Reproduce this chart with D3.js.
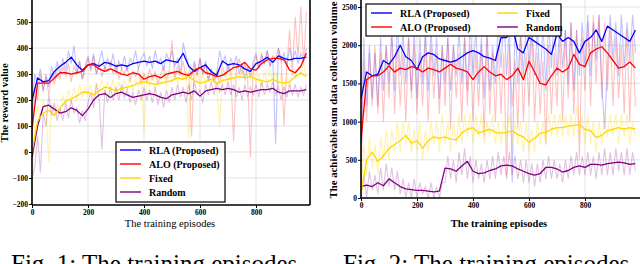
<!DOCTYPE html>
<html>
<head>
<meta charset="utf-8">
<script src="https://cdn.jsdelivr.net/npm/d3@7"></script>
<style>
  body { margin: 0; background: #fff; }
  svg { display: block; }
</style>
</head>
<body>
<svg id="chart" width="640" height="264" font-family="Liberation Serif, serif"></svg>
<script>
// ---- data ----
const seriesNames = ['RLA (Proposed)', 'ALO (Proposed)', 'Fixed', 'Random'];
const seriesColors = ['#0000ff', '#ff0000', '#ffd700', '#800080'];
const rawStep = 10;     // episodes between raw samples
const smoothStep = 20;  // episodes between smoothed samples
const FONT = 'Liberation Serif, serif';

// Fig. 1: reward value
const rewardSmoothRLA = [200,285,270,275,310,330,345,365,335,315,335,340,330,345,340,330,335,330,340,345,350,345,350,340,355,350,345,380,330,310,325,335,310,295,350,335,340,335,320,310,340,350,365,345,370,360,355,360,360,365];
const rewardSmoothALO = [90,265,265,265,285,305,305,300,305,310,335,335,320,310,320,310,300,295,305,300,280,290,295,285,300,305,310,300,295,315,325,305,300,290,295,310,325,330,345,320,315,340,355,360,360,355,315,305,330,380];
const rewardSmoothFixed = [0,120,150,160,140,170,195,205,215,230,230,220,235,250,245,235,245,250,255,265,270,265,260,265,270,275,285,280,290,275,265,270,280,265,275,280,285,290,285,290,280,275,270,280,270,265,270,290,305,290];
const rewardSmoothRandom = [-20,100,175,180,165,150,155,170,160,140,165,200,220,225,210,225,230,220,210,215,220,225,220,210,205,220,225,230,225,235,215,235,240,245,240,245,240,230,235,230,235,240,240,245,230,225,235,235,235,240];

const rewardRawRLA = [150,300,260,320,230,300,250,330,280,350, 300,360,310,390,340,410,300,350,280,330, 370,320,380,300,350,390,310,360,330,380, 300,350,320,370,310,360,340,390,320,360, 380,330,370,320,390,340,360,310,380,350, 390,330,360,300,420,370,330,290,350,300, 360,300,350,280,320,270,300,390,340,370, 310,360,330,370,300,340,280,330,290,350, 380,320,370,340,390,330,360,30,400,350, 380,330,400,350,390,340,380,350,400];
const rewardRawALO = [40,250,200,300,240,290,220,300,260,310, 280,330,290,340,270,330,300,350,280,320, 360,310,370,300,340,290,330,310,350,300, 340,280,320,300,330,270,310,290,320,260, 300,270,320,280,310,260,300,330,280,310, 430,280,330,300,350,280,310,60,340,290, 360,300,340,270,320,280,310,260,330,290, 340,300,40,320,360,300,340,290,-20,330, 370,320,380,340,390,330,370,360,400,350, 100,330,470,300,520,360,560,340,540];
const rewardRawFixed = [-150,100,180,130,200,160,-40,190,140,180, 160,220,180,240,190,250,200,260,210,250, 220,260,200,270,230,280,220,270,240,280, 230,270,220,280,240,290,230,280,250,300, 80,290,250,300,240,290,260,310,250,300, 270,310,260,320,280,330,50,320,270,310, 250,300,260,310,270,300,240,100,280,310, 260,320,270,310,280,330,270,320,280,310, 260,300,250,310,260,320,270,310,250,300, 240,290,250,310,280,330,300,340,290];
const rewardRawRandom = [-100,-60,60,-80,150,100,220,140,190,120, 170,120,190,130,200,150,170,110,160,120, 190,230,170,260,200,10,240,190,250,200, 250,200,260,210,240,190,230,180,240,200, 250,200,240,190,250,180,230,170,240,190, 250,200,260,210,250,190,260,200,270,220, 240,190,260,220,270,220,270,230,260,220, 270,220,260,210,250,200,260,210,250,220, 260,210,270,220,260,230,270,220,250,200, 250,210,260,220,260,210,250,220,260];

// Fig. 2: achievable sum data collection volume
const volumeSmoothRLA = [1300,1650,1600,1620,1800,1750,1850,2000,1850,1800,1680,1850,1900,1880,1820,1800,1780,1800,1850,1900,1930,1900,1850,1830,1800,2100,2100,2250,1950,1900,2100,2050,2000,1950,1880,2150,2050,2100,2050,1900,2050,2100,2200,2050,2250,2200,2150,2100,2050,2200];
const volumeSmoothALO = [750,1550,1600,1600,1650,1730,1650,1700,1680,1720,1700,1650,1700,1680,1650,1700,1750,1700,1680,1650,1550,1650,1720,1650,1600,1620,1550,1600,1700,1550,1790,1650,1500,1480,1600,1700,1650,1700,1880,1750,1720,1900,1950,1980,1900,1800,1700,1720,1780,1700];
const volumeSmoothFixed = [50,500,600,480,550,650,700,750,820,720,750,650,750,800,780,800,770,760,850,900,920,850,880,900,860,850,860,880,830,800,730,780,850,860,900,920,920,940,950,960,900,880,790,820,880,900,920,900,920,900];
const volumeSmoothRandom = [150,170,150,200,160,250,200,150,120,110,100,100,90,80,90,390,380,350,420,480,350,320,330,360,380,420,430,420,380,350,320,300,320,400,400,380,340,360,400,420,400,440,440,430,450,460,470,460,440,450];

const volumeRawRLA = [400,2100,1200,2000,1300,1900,1200,2100,1400,2000, 1500,2200,1400,2300,1600,2200,1500,2100,1400,2200, 1300,2100,1500,2200,1400,2200,1600,2100,1300,2000, 1500,2100,1400,2000,1600,2200,1500,2100,1400,2300, 1600,2200,1500,2100,1300,2200,1400,2000,1500,2300, 1700,2400,1600,2300,200,2400,1500,2200,1600,2300, 1700,2300,1600,2200,1500,2300,1400,2300,1700,2400, 1600,2300,1700,2200,1500,2300,1400,2200,1600,2300, 1700,2400,1600,2300,1800,2400,1500,900,1700,2400, 1800,2300,1600,2400,1700,2300,1800,2400,1900];
const volumeRawALO = [200,1800,1000,1900,1200,2000,1100,1900,1000,2000, 1300,2100,1100,2000,1200,1900,1000,2100,1300,2000, 1100,1900,1200,2100,1000,2000,1300,1900,1100,2000, 1200,2100,900,2000,1300,1900,1000,2100,1200,2000, 1000,1900,1200,2000,800,2100,1100,1900,1000,2000, 1100,1900,300,2000,1200,1800,900,2100,1000,1900, 1200,2200,1000,1900,1100,1800,700,2000,1100,1900, 1200,2100,1000,2200,1300,2300,1100,2200,500,2100, 1400,2300,1200,2400,1500,2400,1300,2300,1400,2200, 1200,2100,1300,2000,1100,2200,1000,2100,1200];
const volumeRawFixed = [0,700,300,800,400,700,300,800,500,900, 500,900,600,1000,600,1000,700,1000,600,900, 600,1000,500,900,600,1000,700,1000,600,1100, 700,1000,600,1000,700,1100,700,1100,800,1100, 700,1100,800,1100,700,1000,800,1100,700,1000, 700,1000,800,1100,700,1000,700,1000,600,1000, 600,900,600,1000,700,1000,700,1100,800,1100, 800,1100,800,1100,800,1100,800,1200,800,1100, 700,1100,700,1000,600,1000,700,1100,800,1100, 800,1100,700,1100,800,1100,700,1000,800];
const volumeRawRandom = [50,300,0,350,100,300,50,400,100,450, 150,400,100,350,50,250,0,200,0,250, 0,200,50,150,0,200,0,150,0,200, 200,550,250,500,200,600,300,650,250,550, 200,500,250,450,200,500,250,550,250,600, 300,550,250,600,300,550,250,500,200,500, 200,450,150,450,200,500,250,550,250,500, 250,450,200,500,250,550,300,600,300,550, 300,600,300,550,250,600,300,650,300,600, 300,650,350,600,300,650,300,600,350];

const xTicks = [0, 200, 400, 600, 800];
const rewardTicks = [-200, -100, 0, 100, 200, 300, 400, 500];
const volumeTicks = [0, 500, 1000, 1500, 2000, 2500];

const panels = [
  {
    left: 32, right: 310, top: -2, bottom: 205, yDomain: [-204, 585],
    yTicks: rewardTicks, yLabel: 'The reward value', yLabelX: 8, yLabelY: 103, yLabelSize: 10.5,
    raw: [rewardRawRLA, rewardRawALO, rewardRawFixed, rewardRawRandom],
    smooth: [rewardSmoothRLA, rewardSmoothALO, rewardSmoothFixed, rewardSmoothRandom],
    legend: { x: 116, y: 142, w: 109, h: 60, cols: 1 },
    caption: 'Fig. 1: The training episodes', captionX: 11
  },
  {
    left: 361, right: 642, top: -2, bottom: 198, yDomain: [0, 2592],
    yTicks: volumeTicks, yLabel: 'The achievable sum data collection volume', yLabelX: 337, yLabelY: 100, yLabelSize: 10.8,
    raw: [volumeRawRLA, volumeRawALO, volumeRawFixed, volumeRawRandom],
    smooth: [volumeSmoothRLA, volumeSmoothALO, volumeSmoothFixed, volumeSmoothRandom],
    legend: { x: 366, y: 4, w: 195, h: 32, cols: 2 },
    caption: 'Fig. 2: The training episodes', captionX: 343
  }
];

const svg = d3.select('#chart');

panels.forEach((p, pi) => {
  const x = d3.scaleLinear().domain([0, 1000]).range([p.left, p.left + 280]);
  const y = d3.scaleLinear().domain(p.yDomain).range([p.bottom, 0]);
  const g = svg.append('g');

  const clipId = `clip${pi}`;
  svg.append('clipPath').attr('id', clipId)
    .append('rect')
    .attr('x', p.left).attr('y', p.top)
    .attr('width', p.right - p.left).attr('height', p.bottom - p.top);

  // grid
  g.selectAll('.vgrid').data(xTicks.filter(d => d > 0)).join('line')
    .attr('x1', d => x(d)).attr('x2', d => x(d))
    .attr('y1', p.top).attr('y2', p.bottom)
    .attr('stroke', '#dcdcdc').attr('stroke-width', 0.8);
  g.selectAll('.hgrid').data(p.yTicks.filter(d => d !== p.yTicks[0] || pi === 1)).join('line')
    .attr('x1', p.left).attr('x2', p.right)
    .attr('y1', d => y(d)).attr('y2', d => y(d))
    .attr('stroke', '#dcdcdc').attr('stroke-width', 0.8);

  const plot = g.append('g').attr('clip-path', `url(#${clipId})`);

  // faint raw curves
  p.raw.forEach((vals, i) => {
    const line = d3.line().x((d, j) => x(j * rawStep)).y(d => y(d));
    plot.append('path')
      .attr('d', line(vals))
      .attr('fill', 'none')
      .attr('stroke', seriesColors[i])
      .attr('stroke-opacity', i === 2 ? 0.32 : 0.24)
      .attr('stroke-width', 1.1);
  });

  // smoothed curves
  [3, 2, 0, 1].forEach(i => {
    const line = d3.line().x((d, j) => x(j * smoothStep)).y(d => y(d));
    plot.append('path')
      .attr('d', line(p.smooth[i]))
      .attr('fill', 'none')
      .attr('stroke', seriesColors[i])
      .attr('stroke-width', 1.3)
      .attr('stroke-linejoin', 'round');
  });

  // frame
  g.append('line').attr('x1', p.left).attr('x2', p.left).attr('y1', p.top).attr('y2', p.bottom)
    .attr('stroke', '#000').attr('stroke-width', 1.6);
  g.append('line').attr('x1', p.left).attr('x2', p.right).attr('y1', p.bottom).attr('y2', p.bottom)
    .attr('stroke', '#000').attr('stroke-width', 1.6);
  g.append('line').attr('x1', p.right).attr('x2', p.right).attr('y1', p.top).attr('y2', p.bottom)
    .attr('stroke', '#000').attr('stroke-width', 1.6);

  // axes
  const xAxis = d3.axisBottom(x).tickValues(xTicks).tickSize(3).tickPadding(2).tickFormat(d3.format('d'));
  const yAxis = d3.axisLeft(y).tickValues(p.yTicks).tickSize(3).tickPadding(1).tickFormat(d3.format('d'));
  const gx = g.append('g').attr('transform', `translate(0,${p.bottom})`).call(xAxis);
  const gy = g.append('g').attr('transform', `translate(${p.left},0)`).call(yAxis);
  [gx, gy].forEach(a => {
    a.attr('font-family', FONT);
    a.select('.domain').remove();
    a.selectAll('text').attr('font-size', 7.5).attr('font-weight', 'bold')
      .style('font-family', FONT).attr('fill', '#000');
    a.selectAll('line').attr('stroke', '#000');
  });

  // axis labels
  g.append('text')
    .attr('x', p.left + 138).attr('y', 227)
    .attr('text-anchor', 'middle')
    .style('font-family', FONT)
    .attr('font-size', 10.5).attr('font-weight', pi === 1 ? 'bold' : 'normal')
    .text('The training episodes');
  g.append('text')
    .attr('transform', `translate(${p.yLabelX},${p.yLabelY}) rotate(-90)`)
    .attr('text-anchor', 'middle')
    .style('font-family', FONT)
    .attr('font-size', p.yLabelSize).attr('font-weight', 'bold')
    .text(p.yLabel);

  // legend
  const L = p.legend;
  const lg = g.append('g');
  lg.append('rect').attr('x', L.x).attr('y', L.y).attr('width', L.w).attr('height', L.h)
    .attr('fill', '#fff').attr('stroke', '#000').attr('stroke-width', 1.2);
  seriesNames.forEach((name, i) => {
    let lx, ly;
    if (L.cols === 1) {
      lx = L.x + 4; ly = L.y + 8 + i * 14;
    } else {
      lx = L.x + 5 + (i >= 2 ? 126 : 0); ly = L.y + 9 + (i % 2) * 14;
    }
    lg.append('line').attr('x1', lx).attr('x2', lx + 21).attr('y1', ly).attr('y2', ly)
      .attr('stroke', seriesColors[i]).attr('stroke-width', 1.4);
    lg.append('text').attr('x', lx + 29).attr('y', ly + 3.5)
      .style('font-family', FONT)
      .attr('font-size', 10).attr('font-weight', 'bold').text(name);
  });

  // caption
  svg.append('text')
    .attr('x', p.captionX).attr('y', 272)
    .style('font-family', FONT)
    .attr('font-size', 25)
    .text(p.caption);
});
</script>
</body>
</html>
